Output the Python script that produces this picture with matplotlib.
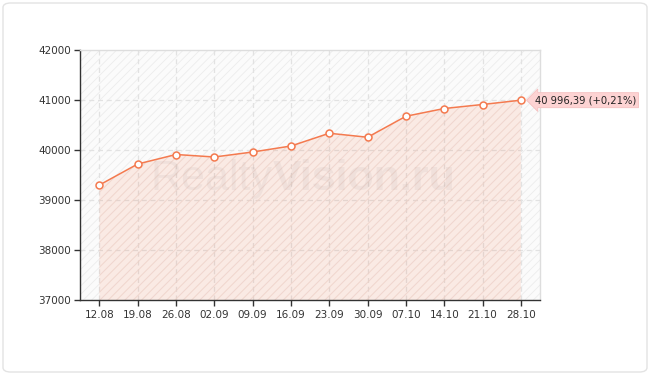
import matplotlib
matplotlib.use("Agg")
import matplotlib.pyplot as plt
from matplotlib.patches import Rectangle, FancyBboxPatch
import numpy as np

dates = ["12.08", "19.08", "26.08", "02.09", "09.09", "16.09",
         "23.09", "30.09", "07.10", "14.10", "21.10", "28.10"]
values = [39300, 39720, 39910, 39860, 39960, 40080,
          40335, 40255, 40675, 40830, 40910, 40996.39]
yticks = [37000, 38000, 39000, 40000, 41000, 42000]
last_label = "40 996,39 (+0,21%)"
watermark_a = "Realty"
watermark_b = "Vision.ru"

plt.rcParams["hatch.linewidth"] = 0.6
plt.rcParams["font.family"] = ["DejaVu Sans"]

fig = plt.figure(figsize=(6.5, 3.75), dpi=100)
fig.patch.set_facecolor("white")

# outer rounded frame
frame = FancyBboxPatch((3 / 650, 3 / 375), 644 / 650, 369 / 375,
                       boxstyle="round,pad=0,rounding_size=0.012",
                       transform=fig.transFigure, facecolor="none",
                       edgecolor="#e3e3e3", linewidth=1.0, zorder=10)
fig.patches.append(frame)

ax = fig.add_axes([79.5 / 650, 75 / 375, 460.5 / 650, 250 / 375])
ax.set_facecolor("#fbfbfb")

x = np.arange(len(dates))

# background hatch
bg = Rectangle((0, 0), 1, 1, transform=ax.transAxes, facecolor="#fbfbfb",
               edgecolor="#ececec", hatch="////", linewidth=0, zorder=0)
ax.add_patch(bg)

ax.set_xlim(-0.52, 11.5)
ax.set_ylim(37000, 42000)

# grid
for yv in yticks[1:-1]:
    ax.axhline(yv, color="#e2e2e2", lw=0.9, ls=(0, (4, 3)), zorder=1)
for xv in x:
    ax.axvline(xv, color="#e2e2e2", lw=0.9, ls=(0, (4, 3)), zorder=1)

# area fill
ax.fill_between(x, values, 37000, facecolor="#f47a4f", alpha=0.13,
                linewidth=0, zorder=2)
ax.fill_between(x, values, 37000, facecolor="none", edgecolor="#f6cfc2",
                hatch="////", linewidth=0, alpha=0.5, zorder=2)

# watermark
renderer = fig.canvas.get_renderer()
wm_kw = dict(fontsize=31, color="#9a8f8c", alpha=0.10, va="baseline",
             ha="left", zorder=3, family="Liberation Sans")
ta = fig.text(150 / 650, 1 - 190 / 375, watermark_a, fontweight="normal", **wm_kw)
bb = ta.get_window_extent(renderer=renderer)
fig.text(bb.x1 / 650 + 1 / 650, 1 - 190 / 375, watermark_b, fontweight="bold", **wm_kw)

# line
ax.plot(x, values, color="#f47a4f", lw=1.1, zorder=4, marker="o",
        markersize=5, markerfacecolor="white", markeredgecolor="#f47a4f",
        markeredgewidth=1.1, clip_on=False)

# spines
for s in ["top", "right"]:
    ax.spines[s].set_color("#dddddd")
    ax.spines[s].set_linewidth(1.0)
for s in ["left", "bottom"]:
    ax.spines[s].set_color("#333333")
    ax.spines[s].set_linewidth(1.0)

ax.set_xticks(x)
ax.set_xticklabels(dates)
ax.set_yticks(yticks)
ax.set_yticklabels([str(v) for v in yticks])
ax.tick_params(axis="both", direction="out", length=4, width=1,
               color="#333333", labelcolor="#333333", labelsize=7.5)
ax.tick_params(axis="x", pad=3)
ax.tick_params(axis="y", pad=2)
ax.grid(False)

# last value label
ax.annotate(last_label, xy=(x[-1], values[-1]), xytext=(10, 0),
            textcoords="offset points", va="center", ha="left",
            fontsize=7.2, color="#222222", zorder=6,
            bbox=dict(boxstyle="larrow,pad=0.25", facecolor="#fdd3d3",
                      edgecolor="#f5c0c0", linewidth=0.6),
            annotation_clip=False)

fig.savefig("out.png", dpi=100, facecolor="white")
